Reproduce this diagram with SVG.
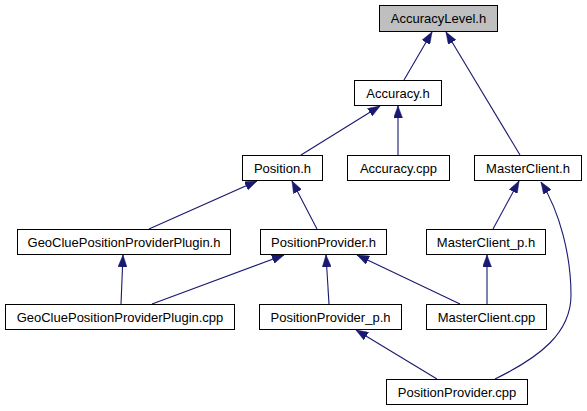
<svg xmlns="http://www.w3.org/2000/svg" width="587" height="411" viewBox="0 0 587 411">
<style>
.node rect{fill:#ffffff;stroke:#000000;stroke-width:1}
.node.hl rect{fill:#bfbfbf}
.node text{font-family:"Liberation Sans",Arial,sans-serif;font-size:13px;fill:#000;text-anchor:middle}
.edges path{fill:none;stroke:#191970;stroke-width:1.1;marker-end:url(#ah)}
</style>
<defs>
<marker id="ah" viewBox="0 0 12 9" refX="12" refY="4.5" markerWidth="12" markerHeight="9" markerUnits="userSpaceOnUse" orient="auto">
<path d="M0,0 L12,4.5 L0,9 z" fill="#191970" stroke="#191970" stroke-width="0.5"/>
</marker>
</defs>
<rect width="587" height="411" fill="#ffffff"/>
<g class="edges">
<path d="M404,80 L432,32"/>
<path d="M520,155 L446,32"/>
<path d="M301,155 L380,106"/>
<path d="M398,155 L398,106"/>
<path d="M149,229 L257,181"/>
<path d="M317,229 L292,181"/>
<path d="M493,229 L519,181"/>
<path d="M495,379 C540,357 571,333 571,295 C571,256 560,212 541,182"/>
<path d="M121,304 L123,255"/>
<path d="M152,304 L284,255"/>
<path d="M329,304 L326,255"/>
<path d="M460,304 L357,255"/>
<path d="M487,304 L487,255"/>
<path d="M437,379 L356,330"/>
</g>
<g id="n_accuracylevel_h" class="node hl"><rect x="379.5" y="5.5" width="118" height="26"/><text x="438.5" y="23">AccuracyLevel.h</text></g>
<g id="n_accuracy_h" class="node"><rect x="354.5" y="80.5" width="87" height="25"/><text x="398" y="97.5">Accuracy.h</text></g>
<g id="n_position_h" class="node"><rect x="242.5" y="155.5" width="80" height="25"/><text x="282.5" y="172.5">Position.h</text></g>
<g id="n_accuracy_cpp" class="node"><rect x="347.5" y="155.5" width="102" height="25"/><text x="398.5" y="172.5">Accuracy.cpp</text></g>
<g id="n_masterclient_h" class="node"><rect x="474.5" y="155.5" width="107" height="25"/><text x="528" y="172.5">MasterClient.h</text></g>
<g id="n_gcppp_h" class="node"><rect x="17.5" y="229.5" width="213" height="25"/><text x="124" y="246.5">GeoCluePositionProviderPlugin.h</text></g>
<g id="n_positionprovider_h" class="node"><rect x="260.5" y="229.5" width="126" height="25"/><text x="323.5" y="246.5">PositionProvider.h</text></g>
<g id="n_masterclient_p_h" class="node"><rect x="426.5" y="229.5" width="119" height="25"/><text x="486" y="246.5">MasterClient_p.h</text></g>
<g id="n_gcppp_cpp" class="node"><rect x="5.5" y="304.5" width="229" height="25"/><text x="120" y="321.5">GeoCluePositionProviderPlugin.cpp</text></g>
<g id="n_positionprovider_p_h" class="node"><rect x="259.5" y="304.5" width="142" height="25"/><text x="330.5" y="321.5">PositionProvider_p.h</text></g>
<g id="n_masterclient_cpp" class="node"><rect x="426.5" y="304.5" width="120" height="25"/><text x="486.5" y="321.5">MasterClient.cpp</text></g>
<g id="n_positionprovider_cpp" class="node"><rect x="386.5" y="379.5" width="141" height="25"/><text x="457" y="396.5">PositionProvider.cpp</text></g>
</svg>
